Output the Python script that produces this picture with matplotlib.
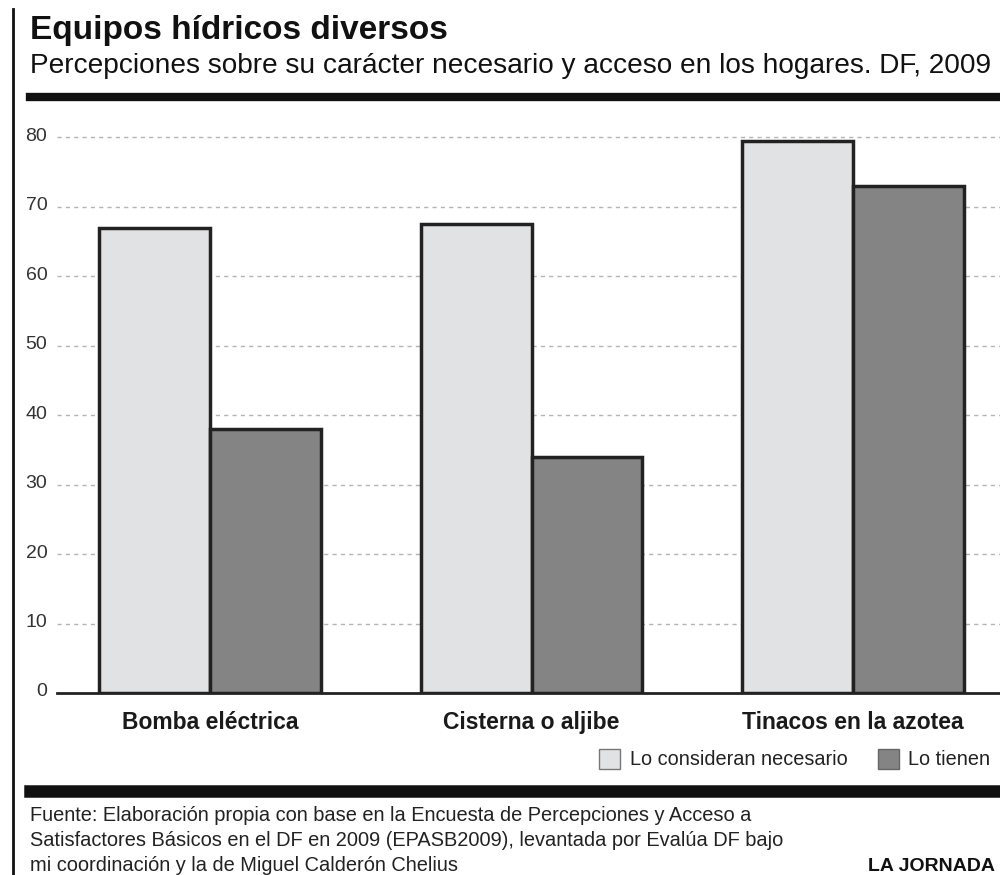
import numpy as np
import matplotlib.pyplot as plt
import matplotlib.transforms as mtransforms
from matplotlib.patches import Rectangle
from matplotlib.lines import Line2D

plt.rcParams['font.family'] = ['Liberation Sans', 'DejaVu Sans']

categories = ["Bomba eléctrica", "Cisterna o aljibe", "Tinacos en la azotea"]
necesario = [67, 67.5, 79.5]
tienen = [38, 34, 73]
yticks = [0, 10, 20, 30, 40, 50, 60, 70, 80]
series_names = ["Lo consideran necesario", "Lo tienen"]

light = "#e1e2e4"
dark = "#848484"

fig = plt.figure(figsize=(10, 8.75), dpi=100)

# chart area
ax = fig.add_axes([0.057, 0.208, 0.943, 0.651])
x = np.arange(len(categories))
w = 0.345
ax.bar(x - w / 2, necesario, w, color=light, edgecolor="#222222", linewidth=2.5, zorder=3)
ax.bar(x + w / 2, tienen, w, color=dark, edgecolor="#222222", linewidth=2.5, zorder=3)
ax.set_xlim(-0.476, 2.457)
ax.set_ylim(0, 82)
ax.set_yticks(yticks)
ax.set_yticklabels([str(t) for t in yticks], fontsize=14)
ax.tick_params(axis='y', length=0, pad=7, colors="#333333")
# numbers sit a little above their gridline
shift = mtransforms.ScaledTranslation(0, 3 / 100, fig.dpi_scale_trans)
for lab in ax.get_yticklabels():
    lab.set_transform(lab.get_transform() + shift)
ax.set_xticks(x)
ax.set_xticklabels(categories, fontsize=16.5, fontweight='bold', color="#1a1a1a")
ax.tick_params(axis='x', length=0, pad=13)
for s in ['top', 'right', 'left']:
    ax.spines[s].set_visible(False)
ax.spines['bottom'].set_linewidth(2)
ax.spines['bottom'].set_color("#222222")
for t in yticks[1:]:
    ax.axhline(t, color="#b4b4b4", linestyle=(0, (3, 3)), linewidth=1, zorder=1)

# titles
fig.text(0.030, 0.965, "Equipos hídricos diversos", fontsize=24, fontweight='bold',
         ha='left', va='center', color="#111111")
fig.text(0.030, 0.925, "Percepciones sobre su carácter necesario y acceso en los hogares. DF, 2009",
         fontsize=20.2, ha='left', va='center', color="#111111")

# rules
fig.add_artist(Line2D([0.030, 1.0], [0.889, 0.889], color="#111111", linewidth=6))
fig.add_artist(Line2D([0.030, 1.0], [0.096, 0.096], color="#111111", linewidth=9))
fig.add_artist(Line2D([0.013, 0.013], [0.0, 0.99], color="#111111", linewidth=2))

# legend
fig.add_artist(Rectangle((0.599, 0.121), 0.021, 0.023, facecolor=light,
                         edgecolor="#777777", linewidth=1, transform=fig.transFigure))
fig.text(0.630, 0.132, series_names[0], fontsize=14.3, ha='left', va='center', color="#222222")
fig.add_artist(Rectangle((0.878, 0.121), 0.021, 0.023, facecolor=dark,
                         edgecolor="#666666", linewidth=1, transform=fig.transFigure))
fig.text(0.908, 0.132, series_names[1], fontsize=14.3, ha='left', va='center', color="#222222")

# footer
footer = ["Fuente: Elaboración propia con base en la Encuesta de Percepciones y Acceso a",
          "Satisfactores Básicos en el DF en 2009 (EPASB2009), levantada por Evalúa DF bajo",
          "mi coordinación y la de Miguel Calderón Chelius"]
for i, line in enumerate(footer):
    fig.text(0.030, 0.068 - i * 0.0286, line, fontsize=14.4, ha='left', va='center',
             color="#222222")
fig.text(0.995, 0.010, "LA JORNADA", fontsize=14, fontweight='bold', ha='right',
         va='center', color="#111111")

fig.savefig("out.png", dpi=100)
